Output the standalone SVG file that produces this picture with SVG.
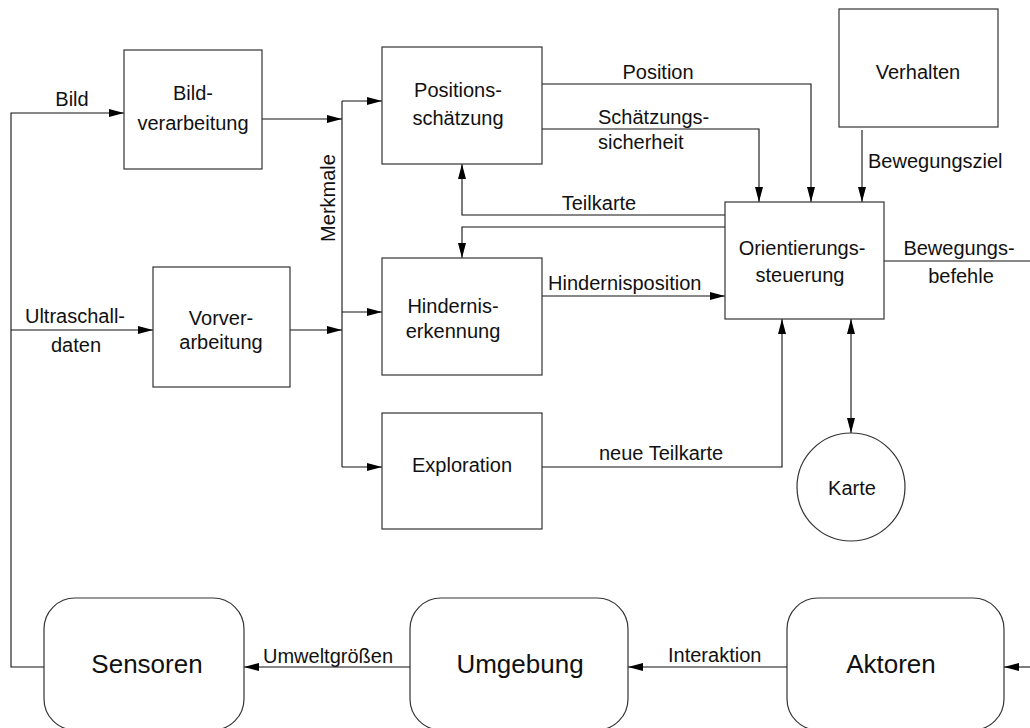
<svg xmlns="http://www.w3.org/2000/svg" width="1030" height="728" viewBox="0 0 1030 728">
<defs>
<style>
.box{fill:#fff;stroke:#333;stroke-width:1.2}
.ln{fill:none;stroke:#111;stroke-width:1.1}
.arr{marker-end:url(#ah)}
text{font-family:"Liberation Sans",Arial,Helvetica,sans-serif;font-size:20px;fill:#111}
.big{font-size:26px}
.m{text-anchor:middle}
</style>
<marker id="ah" markerUnits="userSpaceOnUse" markerWidth="15" markerHeight="8" refX="15" refY="4" orient="auto-start-reverse">
<path d="M0,0 L15,4 L0,8 z" fill="#000"/>
</marker>
</defs>
<rect width="1030" height="728" fill="#fff"/>

<g id="connectors">
<path class="ln" d="M44,667 H11 V113 H124" marker-end="url(#ah)"/>
<path class="ln arr" d="M11,330 H153"/>
<path class="ln arr" d="M262,119 H342"/>
<path class="ln arr" d="M290,330 H342"/>
<path class="ln" d="M342,101 V467"/>
<path class="ln arr" d="M342,101 H382"/>
<path class="ln arr" d="M342,312 H382"/>
<path class="ln arr" d="M342,467 H382"/>
<path class="ln arr" d="M542,84 H811 V202"/>
<path class="ln arr" d="M542,129 H759 V202"/>
<path class="ln arr" d="M725,215 H462 V164"/>
<path class="ln arr" d="M725,227 H462 V258"/>
<path class="ln arr" d="M542,296 H725"/>
<path class="ln arr" d="M542,467 H782 V319"/>
<path class="ln" d="M851,433 V319" marker-start="url(#ah)" marker-end="url(#ah)"/>
<path class="ln arr" d="M862,130 V202"/>
<path class="ln" d="M884,261 H1030"/>
<path class="ln arr" d="M1030,667 H1004"/>
<path class="ln arr" d="M787,667 H628"/>
<path class="ln arr" d="M410,667 H244"/>
<text x="72" y="106" class="m">Bild</text>
<text x="75" y="323" class="m">Ultraschall-</text>
<text x="76" y="352" class="m">daten</text>
<text transform="translate(335,198) rotate(-90)" class="m">Merkmale</text>
<text x="658" y="79" class="m">Position</text>
<text x="598" y="124">Schätzungs-</text>
<text x="598" y="149">sicherheit</text>
<text x="599" y="210" class="m" dx="0">Teilkarte</text>
<text x="548" y="290">Hindernisposition</text>
<text x="599" y="460">neue Teilkarte</text>
<text x="868" y="168">Bewegungsziel</text>
<text x="959" y="255" class="m">Bewegungs-</text>
<text x="961" y="283" class="m">befehle</text>
<text x="263" y="663">Umweltgrößen</text>
<text x="668" y="662">Interaktion</text>
</g>

<g id="bildverarbeitung">
<rect class="box" x="124" y="50" width="138" height="119"/>
<text x="193" y="100" class="m">Bild-</text>
<text x="193" y="130" class="m">verarbeitung</text>
</g>
<g id="vorverarbeitung">
<rect class="box" x="153" y="267" width="137" height="120"/>
<text x="221" y="325" class="m">Vorver-</text>
<text x="221" y="349" class="m">arbeitung</text>
</g>
<g id="positionsschaetzung">
<rect class="box" x="382" y="47" width="160" height="117"/>
<text x="458" y="97" class="m">Positions-</text>
<text x="458" y="125" class="m">schätzung</text>
</g>
<g id="hinderniserkennung">
<rect class="box" x="382" y="258" width="160" height="117"/>
<text x="453" y="313" class="m">Hindernis-</text>
<text x="453" y="338" class="m">erkennung</text>
</g>
<g id="exploration">
<rect class="box" x="382" y="413" width="160" height="116"/>
<text x="462" y="472" class="m">Exploration</text>
</g>
<g id="verhalten">
<rect class="box" x="839" y="9" width="159" height="118"/>
<text x="918" y="79" class="m">Verhalten</text>
</g>
<g id="orientierungssteuerung">
<rect class="box" x="725" y="202" width="159" height="117"/>
<text x="802" y="255" class="m">Orientierungs-</text>
<text x="800" y="282" class="m">steuerung</text>
</g>
<g id="karte">
<circle class="box" cx="851" cy="487" r="54"/>
<text x="852" y="495" class="m">Karte</text>
</g>
<g id="sensoren">
<rect class="box" x="44" y="598" width="200" height="132" rx="31" ry="31"/>
<text x="147" y="673" class="m big">Sensoren</text>
</g>
<g id="umgebung">
<rect class="box" x="410" y="598" width="218" height="132" rx="31" ry="31"/>
<text x="520" y="673" class="m big">Umgebung</text>
</g>
<g id="aktoren">
<rect class="box" x="787" y="598" width="217" height="132" rx="31" ry="31"/>
<text x="891" y="673" class="m big">Aktoren</text>
</g>
</svg>
